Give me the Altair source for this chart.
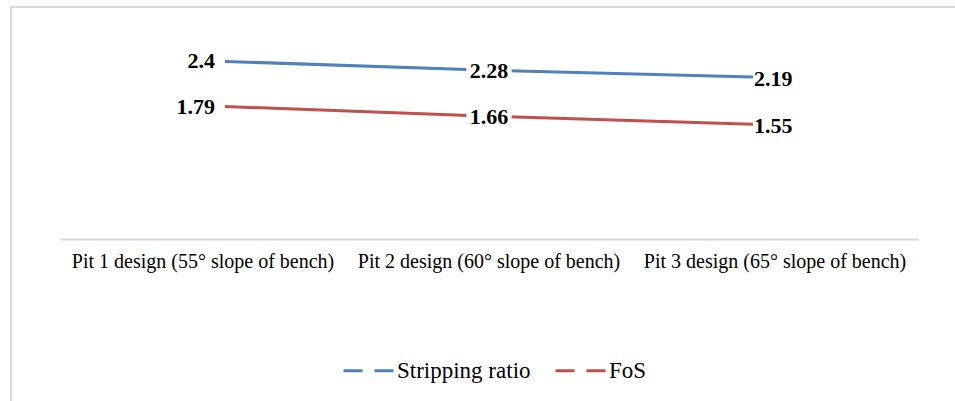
import altair as alt
import pandas as pd

categories = [
    "Pit 1 design (55° slope of bench)",
    "Pit 2 design (60° slope of bench)",
    "Pit 3 design (65° slope of bench)",
]
series_names = ["Stripping ratio", "FoS"]
stripping_ratio = [2.4, 2.28, 2.19]
fos = [1.79, 1.66, 1.55]
colors = ["#4F81BD", "#C0504D"]

rows = []
for c, v in zip(categories, stripping_ratio):
    rows.append({"category": c, "series": "Stripping ratio", "value": v})
for c, v in zip(categories, fos):
    rows.append({"category": c, "series": "FoS", "value": v})
df = pd.DataFrame(rows)

FONT = "Liberation Serif"
W, H = 858, 222

x_point = alt.X("category:N", scale=alt.Scale(type="point", domain=categories, padding=0.625), axis=None)
y_enc = alt.Y("value:Q", scale=alt.Scale(domain=[0, 3]), axis=None)

base = alt.Chart(df)

border = alt.Chart(alt.Data(values=[{}])).mark_rect(
    fill="transparent", stroke="#d9d9d9", strokeWidth=2
).encode(x=alt.value(-49), x2=alt.value(1000), y=alt.value(-10), y2=alt.value(500))

axis_layer = base.mark_point(opacity=0).encode(
    x=alt.X(
        "category:N",
        scale=alt.Scale(type="band", domain=categories, paddingInner=0, paddingOuter=0),
        axis=alt.Axis(
            title=None, labelAngle=0, ticks=False, domainColor="#d9d9d9", domainWidth=2,
            labelFont=FONT, labelFontSize=20, labelColor="#000000", labelPadding=12,
            labelLimit=400,
        ),
    ),
    y=y_enc,
)

lines = base.mark_line(strokeWidth=3).encode(
    x=x_point,
    y=y_enc,
    color=alt.Color(
        "series:N",
        scale=alt.Scale(domain=series_names, range=colors),
        legend=alt.Legend(
            title=None, orient="none", direction="horizontal", legendX=282, legendY=327,
            symbolType="stroke", symbolStrokeWidth=3, symbolDash=[19, 12], symbolSize=2500,
            labelFont=FONT, labelFontSize=23, labelColor="#000000", columnPadding=18,
            labelOffset=2,
        ),
    ),
    detail="series:N",
)

mid = base.transform_filter(alt.datum.category == categories[1])
boxes = mid.mark_point(
    shape="M-1,-0.45L1,-0.45L1,0.45L-1,0.45Z", filled=True, fill="white", opacity=1, size=2050, strokeWidth=0
).encode(x=x_point, y=y_enc)

txt_kw = dict(font=FONT, fontSize=22, fontWeight="bold", color="#000000", baseline="middle")
t_left = base.transform_filter(alt.datum.category == categories[0]).mark_text(
    align="right", dx=-10, **txt_kw
).encode(x=x_point, y=y_enc, text="value:N")
t_mid = mid.mark_text(align="center", dy=1, **txt_kw).encode(x=x_point, y=y_enc, text="value:N")
t_right = base.transform_filter(alt.datum.category == categories[2]).mark_text(
    align="left", dx=1, dy=2, **txt_kw
).encode(x=x_point, y=y_enc, text="value:N")

chart = alt.layer(border, axis_layer, lines, boxes, t_left, t_mid, t_right).resolve_scale(
    x="independent"
).properties(
    width=W, height=H, autosize=alt.AutoSizeParams(type="none"),
    padding={"left": 60, "top": 17, "right": 37, "bottom": 162},
    background="white",
).configure_view(stroke=None, strokeWidth=0)

chart.save("out.html", embed_options={"renderer": "svg", "actions": False})
